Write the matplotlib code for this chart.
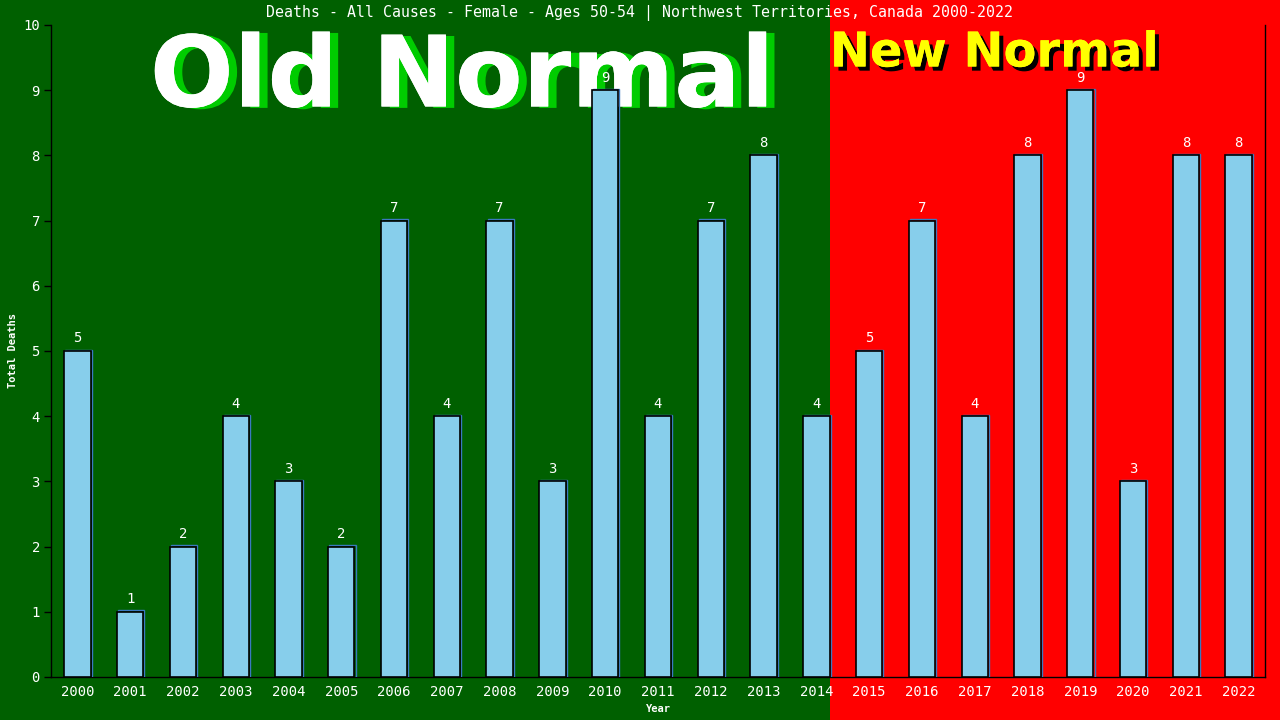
import matplotlib
matplotlib.use("Agg")
import matplotlib.pyplot as plt
import matplotlib.patches as mpatches
import matplotlib.patheffects as pe

years = [str(y) for y in range(2000, 2023)]
deaths = [5, 1, 2, 4, 3, 2, 7, 4, 7, 3, 9, 4, 7, 8, 4, 5, 7, 4, 8, 9, 3, 8, 8]
title = "Deaths - All Causes - Female - Ages 50-54 | Northwest Territories, Canada 2000-2022"
split_index = 14  # last "Old Normal" year index (2014)

W, H = 1280, 720
fig = plt.figure(figsize=(12.8, 7.2), dpi=100)
mono = "DejaVu Sans Mono"

ax_l, ax_r, ax_t, ax_b = 51, 1265, 25, 677
ax = fig.add_axes([ax_l / W, 1 - ax_b / H, (ax_r - ax_l) / W, (ax_b - ax_t) / H])
ax.set_xlim(-0.5, len(years) - 0.5)
ax.set_ylim(0, 10)
ax.patch.set_alpha(0)

# background split at right edge of last old-normal bar
bar_w = 0.5
split_x = split_index + bar_w / 2
split_fig = ax.transData.transform((split_x, 0))[0]
fig.patches.append(mpatches.Rectangle((0, 0), split_fig / W, 1, transform=fig.transFigure,
                                      facecolor="#006000", edgecolor="none", zorder=-10))
fig.patches.append(mpatches.Rectangle((split_fig / W, 0), 1 - split_fig / W, 1, transform=fig.transFigure,
                                      facecolor="#ff0000", edgecolor="none", zorder=-10))

# big labels (behind the axes)
fig.text(462 / W, 1 - 79 / H, "Old Normal", fontsize=71, fontweight="bold", color="white",
         ha="center", va="center", family="DejaVu Sans", zorder=-5,
         path_effects=[pe.withSimplePatchShadow(offset=(6, -1), shadow_rgbFace="#00cc00", alpha=1.0),
                       pe.Normal()])
fig.text(994 / W, 1 - 53 / H, "New Normal", fontsize=34.5, fontweight="bold", color="#ffff00",
         ha="center", va="center", family="DejaVu Sans", zorder=-5,
         path_effects=[pe.withSimplePatchShadow(offset=(3, -3), shadow_rgbFace="black", alpha=1.0),
                       pe.Normal()])

x = list(range(len(years)))
# blue shadow outline
ax.bar([xi + 0.02 for xi in x], [d + 0.02 for d in deaths], width=bar_w, color="none",
       edgecolor="#3a78c0", linewidth=1.0, zorder=3)
ax.bar(x, deaths, width=bar_w, color="#87ceeb", edgecolor="black", linewidth=1.2, zorder=4)

for xi, d in zip(x, deaths):
    ax.annotate(str(d), (xi, d), xytext=(0, 4), textcoords="offset points", ha="center",
                va="bottom", color="white", fontsize=10, family=mono, zorder=5)

ax.set_xticks(x)
ax.set_xticklabels(years, family=mono, fontsize=10, color="white")
ax.set_yticks(range(0, 11))
ax.set_yticklabels([str(i) for i in range(0, 11)], family=mono, fontsize=10, color="white")
ax.tick_params(axis="x", length=0, pad=6)
ax.tick_params(axis="y", length=5, width=1, color="black", direction="out", pad=3)

for s in ["left", "bottom", "right"]:
    ax.spines[s].set_color("black")
    ax.spines[s].set_linewidth(1)
ax.spines["top"].set_visible(False)

ax.set_xlabel("Year", family=mono, fontsize=7.5, color="white", fontweight="bold")
ax.set_ylabel("Total Deaths", family=mono, fontsize=7.5, color="white", fontweight="bold")
# place axis labels where the reference has them (axes-fraction coords)
ax.yaxis.set_label_coords((13 - ax_l) / (ax_r - ax_l), 0.5)
ax.xaxis.set_label_coords(0.5, -(709 - ax_b) / (ax_b - ax_t))
ax.yaxis.label.set_va("center")
ax.xaxis.label.set_va("center")

fig.text(0.5, 1 - 13 / H, title, ha="center", va="center", family=mono, fontsize=10.7, color="white")

fig.savefig("out.png", dpi=100)
